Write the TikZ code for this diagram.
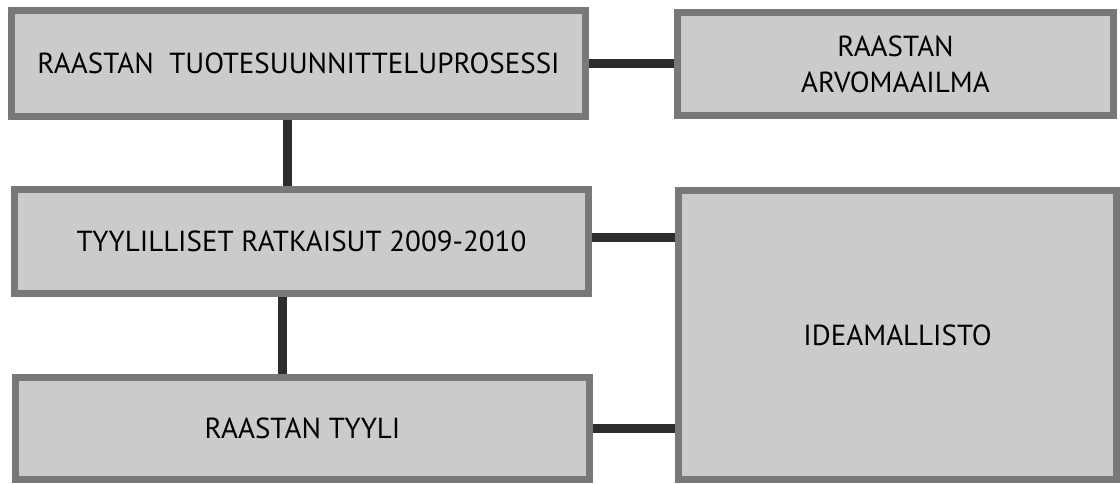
\documentclass[tikz,border=0pt]{standalone}
\usepackage{fontspec}
\setmainfont{PT Sans}
\definecolor{boxgray}{HTML}{CBCBCB}
\definecolor{rimgray}{HTML}{787878}
\definecolor{linkgray}{HTML}{2D2D2D}
\begin{document}
\begin{tikzpicture}[x=1pt,y=-1pt,font=\fontsize{29}{36}\selectfont,
	box/.style={draw=rimgray,fill=boxgray,line width=7pt,minimum width=574pt,minimum height=104pt,align=center,inner sep=0pt},
	link/.style={draw=linkgray,line width=9pt}]
	\useasboundingbox (0,0) rectangle (1120,483);
	% boxes
	\node[box,minimum height=106pt] (proc) at (298.5,63.5) {RAASTAN\ \ TUOTESUUNNITTELUPROSESSI};
	\node[box,minimum width=436pt,minimum height=103pt] (arvo) at (895.5,64) {RAASTAN\\ARVOMAAILMA};
	\node[box] (ratk) at (301.5,241.5) {TYYLILLISET RATKAISUT 2009-2010};
	\node[box,minimum width=438pt,minimum height=289pt] (idea) at (897.5,335) {IDEAMALLISTO};
	\node[box,minimum height=102pt] (tyyli) at (302.5,428.5) {RAASTAN TYYLI};
	% links
	\draw[link] (proc.east) -- (proc.east -| arvo.west);
	\draw[link] ([xshift=-11.5pt]proc.south) -- ([xshift=-11.5pt]proc.south |- ratk.north);
	\draw[link] ([yshift=4.5pt]ratk.east) -- ([yshift=4.5pt]ratk.east -| idea.west);
	\draw[link] ([xshift=-19.5pt]ratk.south) -- ([xshift=-19.5pt]ratk.south |- tyyli.north);
	\draw[link] (tyyli.east) -- (tyyli.east -| idea.west);
\end{tikzpicture}
\end{document}
